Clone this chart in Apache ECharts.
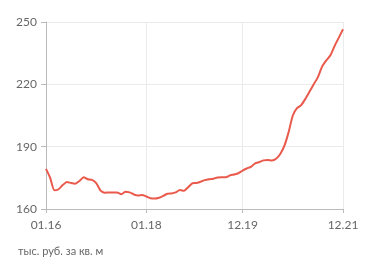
<!DOCTYPE html>
<html>
<head>
<meta charset="utf-8">
<script src="https://cdn.jsdelivr.net/npm/echarts@6/dist/echarts.min.js"></script>
<style>
html,body{margin:0;padding:0;background:#fff;}
#chart{width:371px;height:274px;}
</style>
</head>
<body>
<div id="chart"></div>
<script>
// Monthly periods 01.16 .. 12.21
const months = [];
for (let y = 16; y <= 21; y++) {
  for (let m = 1; m <= 12; m++) {
    months.push((m < 10 ? '0' + m : '' + m) + '.' + y);
  }
}
const tickLabels = ['01.16', '01.18', '12.19', '12.21'];
const yTicks = [160, 190, 220, 250];
const unitLabel = 'тыс. руб. за кв. м';
const prices = [
  179.3, 175, 169, 169.5, 171.5, 173, 172.5, 172.2, 173.5, 175.3, 174.3, 174,
  172.5, 169, 167.8, 168, 167.9, 167.9, 167.1, 168.3, 168, 167, 166.5, 166.7,
  166, 165.2, 165, 165.4, 166.3, 167.3, 167.5, 168, 169.1, 168.8, 170.5, 172.4,
  172.5, 173.2, 173.9, 174.3, 174.6, 175.2, 175.3, 175.3, 176.2, 176.6, 177.2, 178.5,
  179.5, 180.3, 182, 182.6, 183.4, 183.6, 183.4, 184.2, 186.5, 190.5, 197, 205,
  208.5, 210, 213, 216.5, 220, 223.5, 228.5, 231.5, 234, 238.5, 242.5, 246.5
];

const showIdx = (i, v) => tickLabels.indexOf(v) >= 0;

const chart = echarts.init(document.getElementById('chart'));
chart.setOption({
  animation: false,
  backgroundColor: '#fff',
  textStyle: { fontFamily: 'Lato, sans-serif' },
  grid: { left: 46, right: 28, top: 22, bottom: 65 },
  graphic: [{
    type: 'text', left: 18, top: 246,
    style: { text: unitLabel, fill: '#666', font: '11px Lato, sans-serif' }
  }],
  xAxis: {
    type: 'category',
    data: months,
    boundaryGap: false,
    axisLine: { lineStyle: { color: '#bbb', width: 1 } },
    axisTick: { show: true, interval: showIdx, length: 4, lineStyle: { color: '#bbb' } },
    axisLabel: { interval: showIdx, color: '#666', fontSize: 12, margin: 10 },
    splitLine: { show: true, interval: showIdx, lineStyle: { color: '#ebebeb', width: 1 } }
  },
  yAxis: {
    type: 'value',
    min: yTicks[0], max: yTicks[yTicks.length - 1], interval: 30,
    axisLine: { show: true, lineStyle: { color: '#bbb', width: 1 } },
    axisTick: { show: true, length: 5, lineStyle: { color: '#bbb' } },
    axisLabel: { color: '#666', fontSize: 12, margin: 9 },
    splitLine: { show: true, lineStyle: { color: '#ebebeb', width: 1 } }
  },
  series: [{
    type: 'line',
    data: prices,
    smooth: 0.2,
    showSymbol: false,
    lineStyle: { color: '#ea5a4c', width: 2 }
  }]
});
</script>
</body>
</html>
